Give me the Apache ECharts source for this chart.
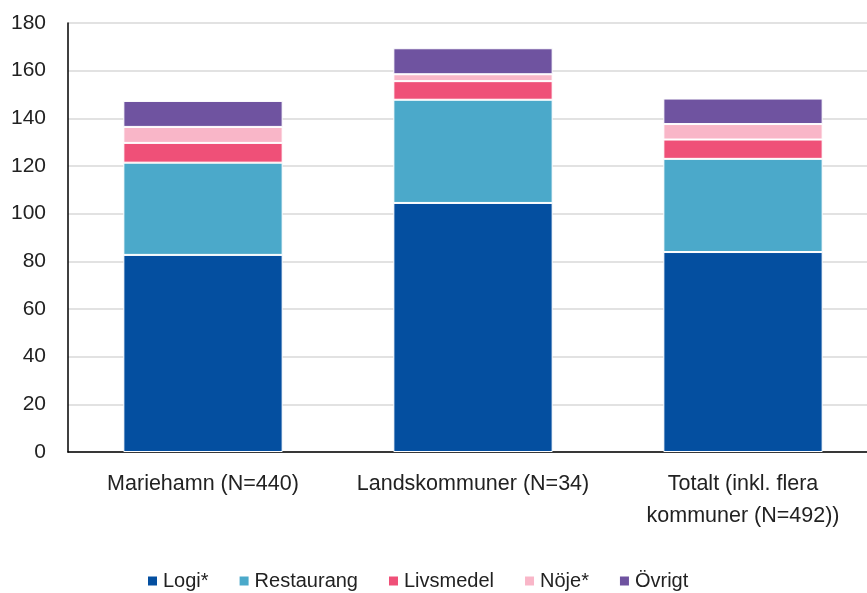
<!DOCTYPE html>
<html>
<head>
<meta charset="utf-8">
<script src="https://cdn.jsdelivr.net/npm/echarts@6/dist/echarts.min.js"></script>
<style>
html, body { margin: 0; padding: 0; background: #fff; overflow: hidden; }
#chart { width: 878px; height: 593px; }
</style>
</head>
<body>
<div id="chart"></div>
<script>
const categories = ['Mariehamn (N=440)', 'Landskommuner (N=34)', 'Totalt (inkl. flera\nkommuner (N=492))'];
const seriesNames = ['Logi*', 'Restaurang', 'Livsmedel', 'Nöje*', 'Övrigt'];
const logi = [82.7, 104.5, 83.9];
const restaurang = [38.7, 43.3, 39.1];
const livsmedel = [8.3, 7.8, 8.1];
const noje = [6.7, 2.9, 6.5];
const ovrigt = [10.9, 10.9, 10.7];
const colors = ['#044fa0', '#4ba9ca', '#ef5078', '#f9b6c8', '#6f53a0'];

const allData = [logi, restaurang, livsmedel, noje, ovrigt];
const font = 'Liberation Sans, Arial, sans-serif';

// chart is a bit wider than the window: the plot runs past the right edge like in the original
const chart = echarts.init(document.getElementById('chart'));
chart.setOption({
    animation: false,
    color: colors,
    grid: { left: 68, right: 0, top: 23, bottom: 141, containLabel: false },
    legend: {
        top: 571,
        left: 146,
        padding: 0,
        itemWidth: 11,
        itemHeight: 11,
        itemGap: 29,
        icon: 'rect',
        textStyle: { fontSize: 20, color: '#222', fontFamily: font },
        data: seriesNames
    },
    xAxis: {
        type: 'category',
        data: categories,
        axisLine: { lineStyle: { color: '#000', width: 1.5 } },
        axisTick: { show: false },
        axisLabel: { interval: 0, fontSize: 21.5, color: '#222', fontFamily: font, margin: 16, lineHeight: 32 }
    },
    yAxis: {
        type: 'value',
        min: 0,
        max: 180,
        interval: 20,
        axisLine: { show: true, lineStyle: { color: '#000', width: 1.5 } },
        axisTick: { show: false },
        splitLine: { lineStyle: { color: '#d9d9d9', width: 1.5 } },
        axisLabel: { fontSize: 21, color: '#222', fontFamily: font, margin: 22 }
    },
    series: seriesNames.map((name, i) => ({
        name: name,
        type: 'bar',
        stack: 'total',
        barWidth: '59%',
        data: allData[i],
        itemStyle: { borderColor: '#fff', borderWidth: 1 }
    }))
});
</script>
</body>
</html>
